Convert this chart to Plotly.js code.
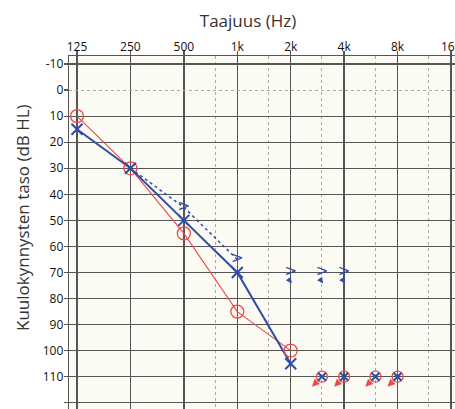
<!DOCTYPE html>
<html>
<head>
<meta charset="utf-8">
<script src="https://cdn.plot.ly/plotly-3.0.1.min.js"></script>
<style>html,body{margin:0;padding:0;background:#fff;}#chart{width:455px;height:409px;}</style>
</head>
<body>
<div id="chart"></div>
<script>
// Frequency tick values and labels
const freqTicks = [125, 250, 500, 1000, 2000, 4000, 8000, 16000];
const freqLabels = ['125', '250', '500', '1k', '2k', '4k', '8k', '16k'];
const halfOctaves = [750, 1500, 3000, 6000, 12000];
const dbTicks = [-10, 0, 10, 20, 30, 40, 50, 60, 70, 80, 90, 100, 110, 120];
const dbLabels = ['-10', '0', '10', '20', '30', '40', '50', '60', '70', '80', '90', '100', '110', '120'];

// Right ear air conduction (red circles)
const rightFreq = [125, 250, 500, 1000, 2000];
const rightDb = [10, 30, 55, 85, 100];

// Left ear air conduction (blue X)
const leftFreq = [125, 250, 500, 1000, 2000];
const leftDb = [15, 30, 50, 70, 105];

// Left bone conduction (blue >)
const boneFreq = [250, 500, 1000];
const boneDb = [30, 45, 65];

// Left bone conduction, no response (blue > with arrow)
const boneNrFreq = [2000, 3000, 4000];
const boneNrDb = [70, 70, 70];

// No response, both ears (red circle + blue X with arrow)
const nrFreq = [3000, 4000, 6000, 8000];
const nrDb = [110, 110, 110, 110];

const RED = '#f0474a';
const BLUE = '#2f4ca6';
const GRID = '#555555';
const FONT = 'Open Sans, sans-serif';

const xr = [Math.log10(125) - 8 / 177.7, Math.log10(16000) + 4 / 177.7];
const yr = [122.4, -13.1];

const traces = [
  {x: [1000], y: [null], xaxis: 'x', yaxis: 'y3', mode: 'markers', hoverinfo: 'skip'},
  {x: [1000], y: [null], xaxis: 'x2', yaxis: 'y2', mode: 'markers', hoverinfo: 'skip'},
  {x: rightFreq, y: rightDb, mode: 'lines', line: {color: RED, width: 1.1}, hoverinfo: 'skip'},
  {x: leftFreq, y: leftDb, mode: 'lines', line: {color: BLUE, width: 2}, hoverinfo: 'skip'},
  {x: boneFreq, y: boneDb, mode: 'lines', line: {color: BLUE, width: 1.5, dash: 'dot'}, hoverinfo: 'skip'},
  {x: rightFreq, y: rightDb, mode: 'markers', marker: {symbol: 'circle-open', size: 13, color: RED, line: {width: 1.3, color: RED}}},
  {x: leftFreq, y: leftDb, mode: 'markers', marker: {symbol: 'x-thin-open', size: 11, color: BLUE, line: {width: 2, color: BLUE}}},
  {x: boneFreq.slice(1), y: boneDb.slice(1), mode: 'text', text: boneFreq.slice(1).map(() => '>'), textposition: 'middle center',
   textfont: {family: 'DejaVu Sans', size: 15, color: BLUE}},
  {x: boneNrFreq, y: boneNrDb, mode: 'text', text: boneNrFreq.map(() => '>'), textposition: 'middle center',
   textfont: {family: 'DejaVu Sans', size: 15, color: BLUE}},
  {x: nrFreq, y: nrDb, mode: 'markers', marker: {symbol: 'circle-open', size: 11, color: RED, line: {width: 1.3, color: RED}}},
  {x: nrFreq, y: nrDb, mode: 'markers', marker: {symbol: 'x-thin-open', size: 8, color: BLUE, line: {width: 2, color: BLUE}}}
];

const annotations = [];
nrFreq.forEach((f, i) => {
  annotations.push({x: Math.log10(f), y: nrDb[i], xref: 'x', yref: 'y', text: '', showarrow: true,
    xshift: -10, yshift: -10, ax: 6, ay: -6, arrowhead: 2, arrowsize: 1, arrowwidth: 1.5, arrowcolor: RED});
});
boneNrFreq.forEach((f, i) => {
  annotations.push({x: Math.log10(f), y: boneNrDb[i], xref: 'x', yref: 'y', text: '', showarrow: true,
    xshift: 1, yshift: -11, ax: -4, ay: -6, arrowhead: 2, arrowsize: 0.8, arrowwidth: 1.5, arrowcolor: BLUE});
});
annotations.push({text: 'Kuulokynnysten taso (dB HL)', xref: 'paper', yref: 'paper', x: -69 / 386 + 22 / 386, y: (409 - 218) / 353,
  xanchor: 'center', yanchor: 'middle', textangle: -90, showarrow: false, font: {family: FONT, size: 17, color: '#333'}});

const layout = {
  width: 455, height: 409,
  margin: {l: 69, r: 0, t: 56, b: 0, pad: 0},
  paper_bgcolor: '#ffffff',
  plot_bgcolor: '#fbfbf3',
  showlegend: false,
  title: {text: 'Taajuus (Hz)', xref: 'container', yref: 'container', x: 248 / 455, y: 1 - 21 / 409,
    xanchor: 'center', yanchor: 'middle', font: {family: FONT, size: 17, color: '#333'}},
  xaxis: {type: 'log', side: 'top', range: xr, tickvals: freqTicks, ticktext: freqLabels,
    showgrid: true, gridcolor: GRID, gridwidth: 1.3, showline: true, linecolor: GRID, linewidth: 1.3,
    mirror: false, ticks: 'outside', ticklen: 4, tickcolor: GRID, tickwidth: 1.3, ticklabeloverflow: 'allow',
    ticklabelstandoff: -5,
    tickfont: {family: FONT, size: 12, color: '#111'}, zeroline: false, fixedrange: true},
  xaxis2: {type: 'log', overlaying: 'x', side: 'top', range: xr, tickvals: halfOctaves, showticklabels: false,
    showgrid: true, gridcolor: '#aaaaaa', gridwidth: 1, griddash: 'dot', ticks: '', showline: false, zeroline: false},
  yaxis: {range: yr, tickvals: dbTicks, ticktext: dbLabels, showgrid: false, showline: true, linecolor: GRID, linewidth: 1.3,
    ticks: 'outside', ticklen: 4, tickcolor: GRID, tickwidth: 1.3, ticklabelstandoff: -2,
    tickfont: {family: FONT, size: 12, color: '#111'}, zeroline: false, fixedrange: true},
  yaxis2: {range: yr, overlaying: 'y', tickvals: dbTicks.filter(v => v !== 0), showticklabels: false, ticks: '',
    showgrid: true, gridcolor: GRID, gridwidth: 1.3, zeroline: false, showline: false},
  yaxis3: {range: yr, overlaying: 'y', tickvals: [0], showticklabels: false, ticks: '',
    showgrid: true, gridcolor: '#aaaaaa', gridwidth: 1, griddash: 'dot', zeroline: false, showline: false},
  annotations: annotations
};

Plotly.newPlot('chart', traces, layout, {displayModeBar: false, staticPlot: true});
</script>
</body>
</html>
